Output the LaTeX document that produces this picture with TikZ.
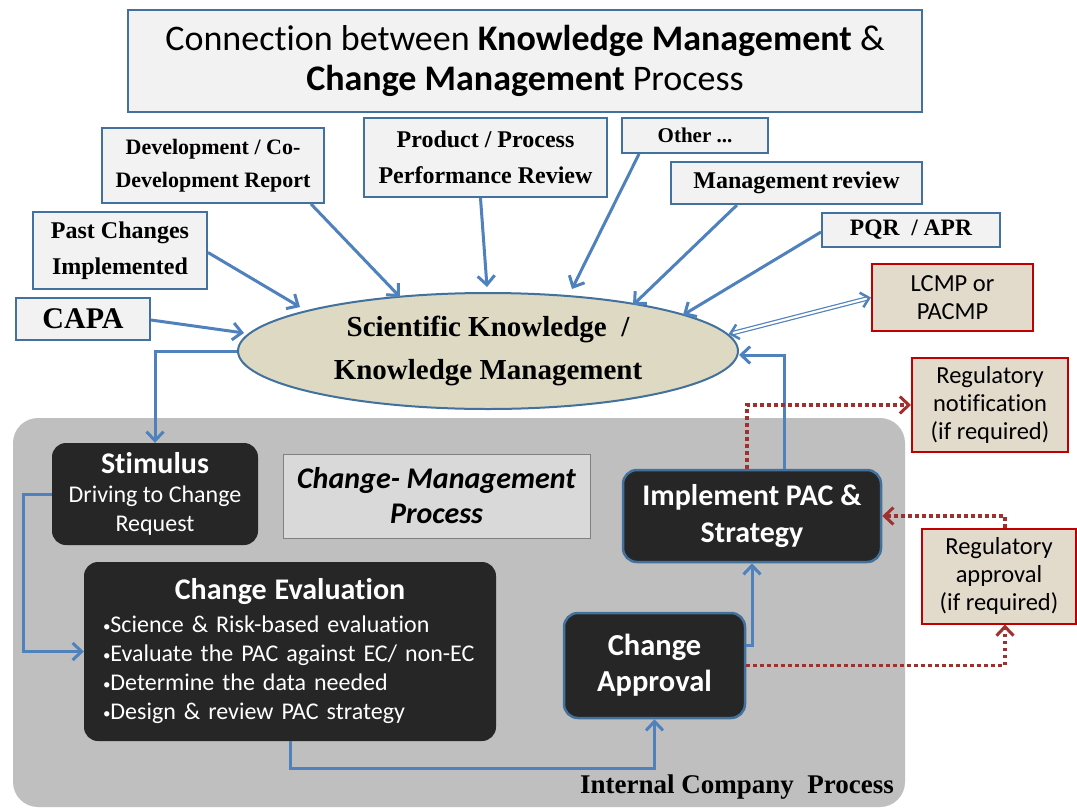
\documentclass[tikz,border=0pt]{standalone}
\usepackage{fontspec}
\setmainfont{Liberation Serif}
\newfontfamily\calfont[Ligatures=NoCommon]{Carlito}
\usetikzlibrary{arrows.meta,shapes.geometric}
\definecolor{bblue}{HTML}{41719C}
\definecolor{ablue}{HTML}{4F81BD}
\definecolor{lgray}{HTML}{F2F2F2}
\definecolor{pgray}{HTML}{BFBFBF}
\definecolor{dbox}{HTML}{262626}
\definecolor{beige}{HTML}{DDD9C3}
\definecolor{rbeige}{HTML}{E2DBCC}
\definecolor{rborder}{HTML}{C00000}
\definecolor{dred}{HTML}{A0302D}
\definecolor{mgray}{HTML}{D9D9D9}
\newcommand\fsz[2]{\fontsize{#1}{#2}\selectfont}
\newcommand\bul{{\fsz{15}{15}\raisebox{1pt}{•}}}
\tikzset{
  srcbox/.style={draw=bblue, line width=2pt, fill=lgray, align=center, inner sep=0pt, font=\bfseries},
  darkbox/.style={fill=dbox, rounded corners=14pt, text=white, align=center, inner sep=0pt},
  darkblue/.style={darkbox, draw=bblue, line width=2.5pt},
  redbox/.style={draw=rborder, line width=2pt, fill=rbeige, align=center, inner sep=0pt, font=\calfont\fsz{24.5}{28}},
  arr/.style={draw=ablue, line width=3pt, -{Straight Barb[length=9pt,width=17pt,line width=3pt]}},
  redarr/.style={draw=dred, line width=3.5pt, dash pattern=on 3.5pt off 3.5pt, -{Straight Barb[length=9pt,width=17pt,line width=3pt]}},
}
\begin{document}
\begin{tikzpicture}[x=1pt,y=-1pt]
\useasboundingbox[fill=white] (0,0) rectangle (1077,809);
% panel
\fill[pgray, rounded corners=25pt] (13,418) rectangle (905,807);
% title
\node[draw=bblue, line width=2pt, fill=lgray, minimum width=794pt, minimum height=102pt, align=center, inner sep=0pt, font=\calfont\fsz{36}{40}] (title) at (525,61)
  {Connection between \textbf{Knowledge Management} \&\\ \textbf{Change Management} Process};
% source boxes
\node[srcbox, minimum width=222pt, minimum height=75pt, font=\bfseries\fsz{22}{33}] (dev) at (213,165.5) {Development / Co-\\Development Report};
\node[srcbox, minimum width=243pt, minimum height=79pt, font=\bfseries\fsz{24}{36}] (prod) at (485.5,157.5) {Product / Process\\Performance Review};
\node[srcbox, minimum width=146pt, minimum height=35pt, font=\bfseries\fsz{21}{24}] (other) at (695,135.5) {Other ...};
\node[srcbox, minimum width=251pt, minimum height=42pt, font=\bfseries\fsz{24}{26}] (mgmt) at (796.5,183) {Management\hspace{-2pt} review};
\node[srcbox, minimum width=178pt, minimum height=34pt, font=\bfseries\fsz{23.5}{26}] (pqr) at (911,230) {PQR\ \ / APR};
\node[srcbox, minimum width=174pt, minimum height=77pt, font=\bfseries\fsz{24}{36}] (past) at (120,250.5) {Past Changes\\Implemented};
\node[srcbox, minimum width=134pt, minimum height=42pt, font=\bfseries\fsz{30}{30}] (capa) at (83,319) {CAPA};
% ellipse
\node[ellipse, draw=bblue, line width=2pt, fill=beige, minimum width=500pt, minimum height=116pt, inner sep=0pt, align=center, font=\bfseries\fsz{29}{43}] (ell) at (488,351)
  {Scientific Knowledge\ \ /\\Knowledge Management};
% red boxes
\node[redbox, minimum width=161pt, minimum height=67pt] (lcmp) at (952.5,297.5) {LCMP or\\PACMP};
\node[redbox, minimum width=156pt, minimum height=94pt] (regn) at (990,405) {Regulatory\\notification\\(if required)};
\node[redbox, minimum width=154pt, minimum height=95pt] (rega) at (999,576) {Regulatory\\approval\\(if required)};
% process boxes
\node[darkbox, minimum width=206pt, minimum height=102pt, font=\calfont\fsz{24}{29}] (stim) at (155,494)
  {{\bfseries\fsz{30}{33}Stimulus}\\Driving to Change\\Request};
\node[draw=gray, line width=1pt, fill=mgray, minimum width=307pt, minimum height=84pt, inner sep=0pt, align=center, font=\calfont\bfseries\itshape\fsz{30}{35}] (cmp) at (436.5,496)
  {Change- Management\\Process};
\node[darkbox, minimum width=412pt, minimum height=179pt, text width=374pt, align=left, font=\calfont\fsz{24}{29}] (eval) at (290,651.5)
  {\makebox[374pt][c]{\bfseries\fsz{30}{29}Change Evaluation}\\[4pt]
   \bul Science \& Risk-based evaluation\\
   \bul Evaluate the PAC against EC/ non-EC\\
   \bul Determine the data needed\\
   \bul Design \& review PAC strategy};
\node[darkblue, minimum width=181pt, minimum height=105pt, font=\calfont\bfseries\fsz{30.5}{36}] (appr) at (654.5,665.5) {Change\\Approval};
\node[darkblue, minimum width=258pt, minimum height=92pt, font=\calfont\bfseries\fsz{30}{37}] (impl) at (752,516) {Implement PAC \&\\Strategy};
\node[font=\bfseries\fsz{27}{28}] (icp) at (737,787) {Internal Company\ \ Process};
% source arrows
\draw[arr] (dev.south east) ++(-14,0) coordinate (d1) -- (400,297) coordinate (d2);
\draw[arr] (prod.south) ++(-5,0) coordinate (p1) -- (487,287) coordinate (p2);
\draw[arr] (other.south west) ++(18,0) coordinate (o1) -- (572,289) coordinate (o2);
\draw[arr] (mgmt.south west) ++(67,0) coordinate (m1) -- (633,305) coordinate (m2);
\draw[arr] (pqr.west) ++(0,2) coordinate (q1) -- (683,315) coordinate (q2);
\draw[arr] (past.east) ++(0,2) coordinate (a1) -- (300,307) coordinate (a2);
\draw[arr] (capa.east) ++(0,1) coordinate (c1) -- (244,333) coordinate (c2);
% double arrow
\draw[draw=ablue, line width=1.2pt, double=white, double distance=2.2pt,
  {Straight Barb[length=8pt,width=15pt,line width=2.5pt]}-{Straight Barb[length=8pt,width=15pt,line width=2.5pt]}]
  (ell.4) -- (lcmp.west);
% process arrows
\draw[arr] (ell.west) -| (stim.north);
\draw[arr] (stim.west) -- ++(-28,0) |- (eval.west);
\draw[arr] (eval.south) -- ++(0,27) -| (appr.south);
\draw[arr] ([yshift=20pt]appr.east) -| (impl.south);
\draw[arr] ([xshift=32pt]impl.north) |- ([yshift=-4pt]ell.east);
% red dotted
\draw[redarr] ([xshift=-5pt]impl.north) |- (regn.west);
\draw[redarr] ([xshift=6pt]rega.north) |- (impl.east);
\draw[redarr] (appr.east) -| ([xshift=6pt]rega.south);
\end{tikzpicture}
\end{document}
